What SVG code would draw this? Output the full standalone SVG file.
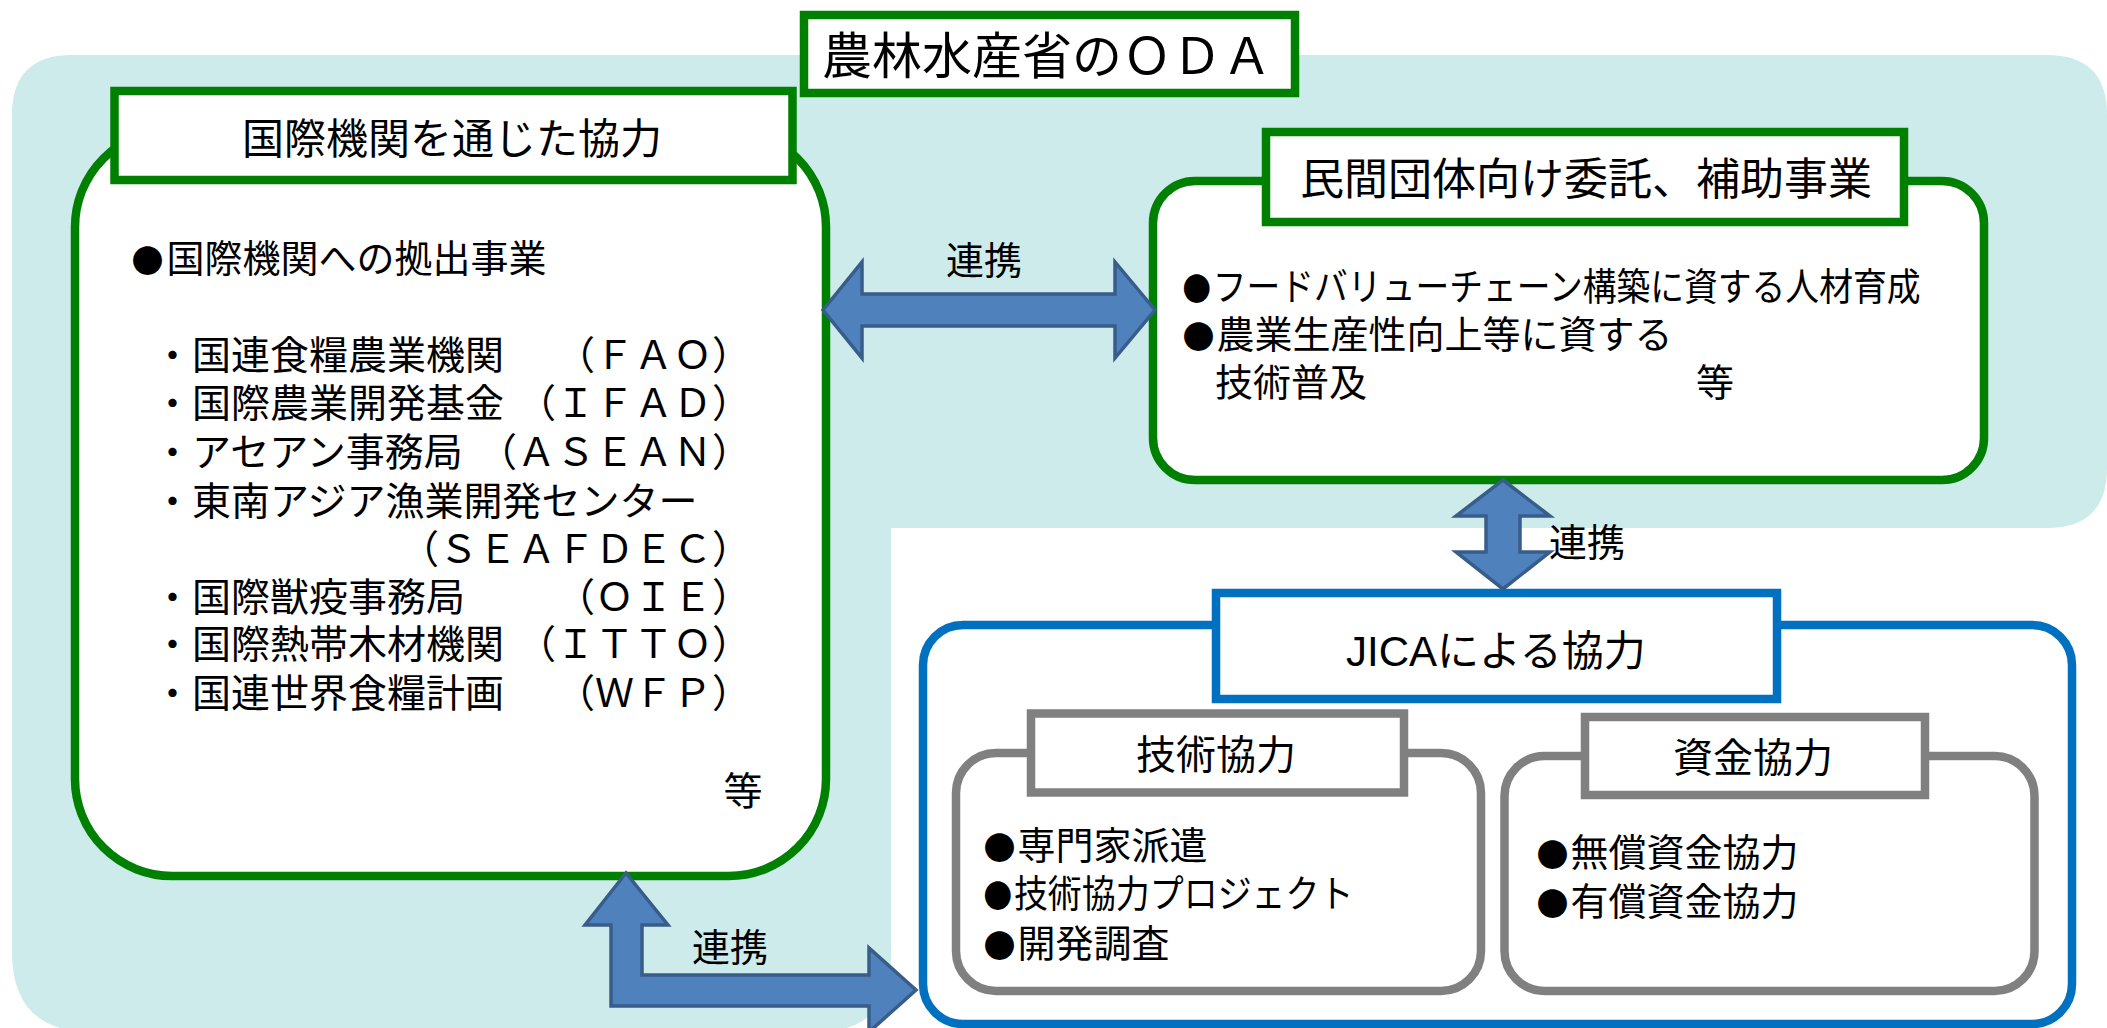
<svg xmlns="http://www.w3.org/2000/svg" width="2107" height="1028" viewBox="0 0 2107 1028">
<defs>
<style>
text{font-family:"Liberation Sans","Noto Sans CJK JP","Noto Sans CJK SC",sans-serif;fill:#000;}
.c{text-anchor:middle;dominant-baseline:central;}
.l{dominant-baseline:central;}
.b{font-family:"Noto Sans CJK JP","Noto Sans CJK SC",sans-serif;font-size:32px;}
.green{fill:#fff;stroke:#008000;stroke-width:8.5;}
.blue{fill:#fff;stroke:#0070C0;stroke-width:8.5;}
.gray{fill:#fff;stroke:#808080;stroke-width:8.5;}
.arrow{fill:#4F81BD;stroke:#385D8A;stroke-width:3.5;stroke-linejoin:miter;}
</style>
</defs>
<rect width="2107" height="1028" fill="#fff"/>
<path id="bg" d="M72,55 H2047 Q2107,55 2107,115 V468 Q2107,528 2047,528 H891 V957 Q891,1032 816,1032 H92 Q12,1032 12,952 V115 Q12,55 72,55 Z" fill="#CCEBEA"/>

<g id="title">
<rect class="green" x="804" y="15" width="491" height="78"/>
<text class="c" x="1047" y="57" font-size="50">農林水産省のＯＤＡ</text>
</g>

<g id="intl">
<rect class="green" x="75" y="130" width="751" height="746" rx="97" ry="97"/>
<rect class="green" x="114.5" y="91" width="678" height="89"/>
<text class="c" x="452" y="139" font-size="42">国際機関を通じた協力</text>
<text class="l" x="131.5" y="259" font-size="38"><tspan class="b">●</tspan><tspan dx="3">国際機関への拠出事業</tspan></text>
<g font-size="39">
<text class="l" y="355"><tspan x="153">・国連食糧農業機関</tspan><tspan x="751" text-anchor="end">（ＦＡＯ）</tspan></text>
<text class="l" y="403"><tspan x="153">・国際農業開発基金</tspan><tspan x="751" text-anchor="end">（ＩＦＡＤ）</tspan></text>
<text class="l" y="452"><tspan x="153">・アセアン事務局</tspan><tspan x="751" text-anchor="end">（ＡＳＥＡＮ）</tspan></text>
<text class="l" y="501" x="153">・東南アジア漁業開発センター</text>
<text class="l" y="549" x="751" text-anchor="end">（ＳＥＡＦＤＥＣ）</text>
<text class="l" y="597"><tspan x="153">・国際獣疫事務局</tspan><tspan x="751" text-anchor="end">（ＯＩＥ）</tspan></text>
<text class="l" y="644"><tspan x="153">・国際熱帯木材機関</tspan><tspan x="751" text-anchor="end">（ＩＴＴＯ）</tspan></text>
<text class="l" y="693"><tspan x="153">・国連世界食糧計画</tspan><tspan x="751" text-anchor="end">（ＷＦＰ）</tspan></text>
<text class="c" x="743" y="791">等</text>
</g>
</g>

<g id="private">
<rect class="green" x="1153" y="181" width="831" height="299" rx="42" ry="42"/>
<rect class="green" x="1266" y="132" width="638" height="90"/>
<text class="c" x="1586" y="179" font-size="44">民間団体向け委託、補助事業</text>
<g font-size="38">
<text class="l" x="1182.5" y="287" textLength="738" lengthAdjust="spacingAndGlyphs"><tspan class="b">●</tspan><tspan dx="2">フードバリューチェーン構築に資する人材育成</tspan></text>
<text class="l" x="1182.5" y="335"><tspan class="b">●</tspan><tspan dx="2">農業生産性向上等に資する</tspan></text>
<text class="l" x="1215" y="383">技術普及</text>
<text class="c" x="1715" y="383">等</text>
</g>
</g>

<g id="jica">
<rect class="blue" x="923" y="625" width="1149" height="399" rx="40" ry="40"/>
<rect class="blue" x="1216" y="593" width="561" height="106"/>
<text class="c" x="1496" y="651" font-size="42">JICAによる協力</text>
</g>

<g id="tech">
<rect class="gray" x="956" y="753" width="525" height="238" rx="40" ry="40"/>
<rect class="gray" x="1031" y="713.5" width="373" height="79"/>
<text class="c" x="1216" y="755" font-size="40">技術協力</text>
<g font-size="38">
<text class="l" x="983.5" y="846"><tspan class="b">●</tspan><tspan dx="2">専門家派遣</tspan></text>
<text class="l" x="983.5" y="894" textLength="370" lengthAdjust="spacingAndGlyphs"><tspan class="b">●</tspan><tspan dx="2">技術協力プロジェクト</tspan></text>
<text class="l" x="983.5" y="944"><tspan class="b">●</tspan><tspan dx="2">開発調査</tspan></text>
</g>
</g>

<g id="finance">
<rect class="gray" x="1504.5" y="756" width="530" height="235" rx="40" ry="40"/>
<rect class="gray" x="1585" y="717" width="340" height="78"/>
<text class="c" x="1753" y="758" font-size="40">資金協力</text>
<g font-size="38">
<text class="l" x="1536.5" y="853"><tspan class="b">●</tspan><tspan dx="2">無償資金協力</tspan></text>
<text class="l" x="1536.5" y="902"><tspan class="b">●</tspan><tspan dx="2">有償資金協力</tspan></text>
</g>
</g>

<g id="connectors">
<path class="arrow" d="M823,310 L862,262 L862,294 L1115,294 L1115,262 L1155,310 L1115,358 L1115,326 L862,326 L862,358 Z"/>
<text class="c" x="984" y="261" font-size="38">連携</text>
<path class="arrow" d="M1503,480 L1550,516 L1520,516 L1520,552 L1550,552 L1503,589 L1456,552 L1486,552 L1486,516 L1456,516 Z"/>
<text class="c" x="1587" y="543" font-size="38">連携</text>
<path class="arrow" d="M626,873 L668,925 L642,925 L642,975 L869,975 L869,948 L916,990 L869,1032 L869,1006 L611,1006 L611,925 L585,925 Z"/>
<text class="c" x="730" y="948" font-size="38">連携</text>
</g>
</svg>
